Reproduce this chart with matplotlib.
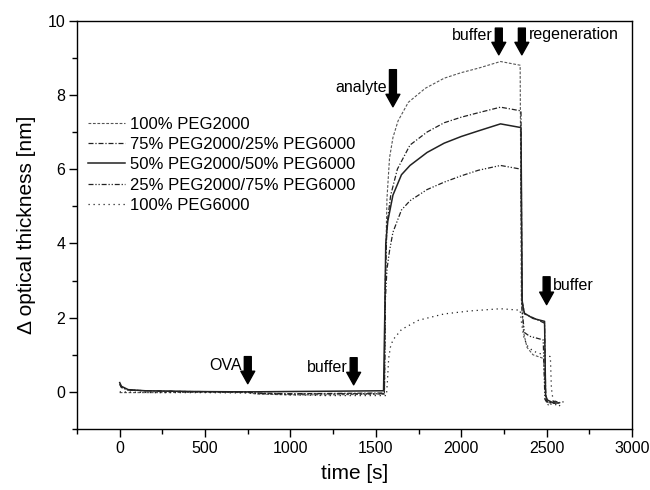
import matplotlib
matplotlib.use("Agg")
import matplotlib.pyplot as plt

plt.rcParams['font.family'] = ['Liberation Sans', 'DejaVu Sans']

# ---------------- data ----------------
t_p2000 = [0, 50, 200, 500, 750, 800, 1000, 1200, 1400, 1550, 1555, 1565, 1580, 1600, 1630, 1690,
           1790, 1900, 2000, 2100, 2230, 2345, 2352, 2365, 2385, 2420, 2482, 2490, 2500, 2520, 2560, 2580]
v_p2000 = [-0.02, -0.02, -0.02, -0.01, -0.02, -0.06, -0.08, -0.08, -0.07, -0.06, 3.0, 5.2, 6.3, 6.85,
           7.3, 7.8, 8.18, 8.45, 8.6, 8.72, 8.9, 8.8, 2.5, 1.6, 1.2, 1.0, 0.9, 0.2, -0.25, -0.3, -0.3, -0.28]

t_p75 = [0, 10, 50, 150, 400, 750, 800, 1000, 1300, 1550, 1556, 1565, 1587, 1626, 1700, 1800, 1900,
         2000, 2100, 2230, 2350, 2356, 2370, 2420, 2488, 2495, 2510, 2550, 2580]
v_p75 = [0.2, 0.12, 0.05, 0.03, 0.01, 0.0, -0.03, -0.05, -0.04, -0.03, 3.0, 4.5, 5.3, 6.0, 6.65, 7.0,
         7.25, 7.4, 7.52, 7.67, 7.57, 2.5, 2.1, 2.0, 1.85, -0.2, -0.3, -0.25, -0.3]

t_p50 = [0, 10, 50, 150, 400, 750, 1000, 1300, 1545, 1552, 1558, 1570, 1600, 1650, 1700, 1800, 1900,
         2000, 2100, 2230, 2350, 2357, 2370, 2420, 2488, 2494, 2505, 2540, 2570]
v_p50 = [0.25, 0.15, 0.06, 0.03, 0.01, 0.0, 0.01, 0.02, 0.03, 2.0, 4.0, 4.6, 5.3, 5.85, 6.1, 6.45,
         6.7, 6.88, 7.03, 7.22, 7.12, 2.4, 2.12, 1.98, 1.9, -0.1, -0.22, -0.3, -0.3]

t_p25 = [0, 10, 50, 150, 400, 750, 800, 1000, 1300, 1550, 1556, 1565, 1580, 1600, 1650, 1700, 1800,
         1900, 2000, 2100, 2230, 2350, 2356, 2370, 2400, 2480, 2490, 2510, 2550]
v_p25 = [0.22, 0.12, 0.05, 0.03, 0.01, 0.0, -0.04, -0.06, -0.05, -0.05, 2.5, 3.3, 3.8, 4.3, 4.9, 5.15,
         5.45, 5.65, 5.82, 5.97, 6.1, 6.0, 2.2, 1.6, 1.5, 1.4, -0.2, -0.35, -0.3]

t_p6000 = [0, 200, 500, 750, 1000, 1200, 1400, 1562, 1568, 1575, 1585, 1600, 1650, 1750, 1900, 2050,
           2230, 2345, 2352, 2365, 2385, 2420, 2480, 2522, 2528, 2540, 2570, 2600]
v_p6000 = [0.0, -0.02, -0.02, -0.03, -0.08, -0.1, -0.1, -0.1, 0.3, 0.9, 1.2, 1.4, 1.68, 1.93, 2.1,
           2.18, 2.24, 2.2, 1.9, 1.5, 1.25, 1.1, 1.0, 0.95, 0.1, -0.3, -0.4, -0.25]

labels = ["100% PEG2000", "75% PEG2000/25% PEG6000", "50% PEG2000/50% PEG6000",
          "25% PEG2000/75% PEG6000", "100% PEG6000"]

# arrows
arrow_labels = ["OVA", "buffer", "analyte", "buffer", "regeneration", "buffer"]
arrow_x = [750, 1370, 1600, 2220, 2355, 2500]
arrow_top = [0.95, 0.92, 8.68, 9.8, 9.8, 3.1]
arrow_tip = [0.22, 0.19, 7.68, 9.08, 9.08, 2.35]
text_x = [715, 1335, 1565, 2185, 2395, 2535]
text_y = [0.72, 0.67, 8.2, 9.6, 9.62, 2.86]
text_ha = ["right", "right", "right", "right", "left", "left"]

# ---------------- figure ----------------
fig = plt.figure(figsize=(6.5, 4.9), dpi=100)
ax = fig.add_axes([0.1185, 0.1245, 0.8538, 0.8333])

lc = '#222222'
ax.plot(t_p2000, v_p2000, color='#555555', lw=0.8, ls=(0, (2.5, 1.5)), label=labels[0])
ax.plot(t_p75, v_p75, color=lc, lw=0.9, ls=(0, (4, 1.5, 1, 1.5)), label=labels[1])
ax.plot(t_p50, v_p50, color=lc, lw=1.1, ls='-', label=labels[2])
ax.plot(t_p25, v_p25, color=lc, lw=0.9, ls=(0, (4, 1.5, 1, 1.5, 1, 1.5)), label=labels[3])
ax.plot(t_p6000, v_p6000, color=lc, lw=0.9, ls=(0, (1, 3)), label=labels[4])

for lab, x, yt, yp, tx, ty, ha in zip(arrow_labels, arrow_x, arrow_top, arrow_tip, text_x, text_y, text_ha):
    ax.annotate('', xy=(x, yp), xytext=(x, yt),
                arrowprops=dict(arrowstyle='simple,head_length=0.9,head_width=1.0,tail_width=0.5',
                                color='black', shrinkA=0, shrinkB=0, mutation_scale=10))
    ax.text(tx, ty, lab, ha=ha, va='center', fontsize=11.5)

ax.set_xlim(-250, 3000)
ax.set_ylim(-1, 10)
ax.set_xticks([0, 500, 1000, 1500, 2000, 2500, 3000])
ax.set_xticks([-250, 250, 750, 1250, 1750, 2250, 2750], minor=True)
ax.set_yticks([0, 2, 4, 6, 8, 10])
ax.set_yticks([-1, 1, 3, 5, 7, 9], minor=True)
ax.tick_params(axis='both', which='major', direction='out', length=5.5, width=1.0,
               labelsize=11.5, pad=3, top=False, right=False)
ax.tick_params(axis='both', which='minor', direction='out', length=3.5, width=1.0,
               top=False, right=False)
for s in ax.spines.values():
    s.set_linewidth(1.0)

ax.set_xlabel('time [s]', fontsize=15, labelpad=6)
ax.set_ylabel('\u0394 optical thickness [nm]', fontsize=15, labelpad=8)

ax.legend(loc='upper left', bbox_to_anchor=(0.02, 0.765), frameon=False, fontsize=12,
          handlelength=2.2, handletextpad=0.3, labelspacing=0.32, borderpad=0, borderaxespad=0)

fig.savefig('out.png', dpi=100)
